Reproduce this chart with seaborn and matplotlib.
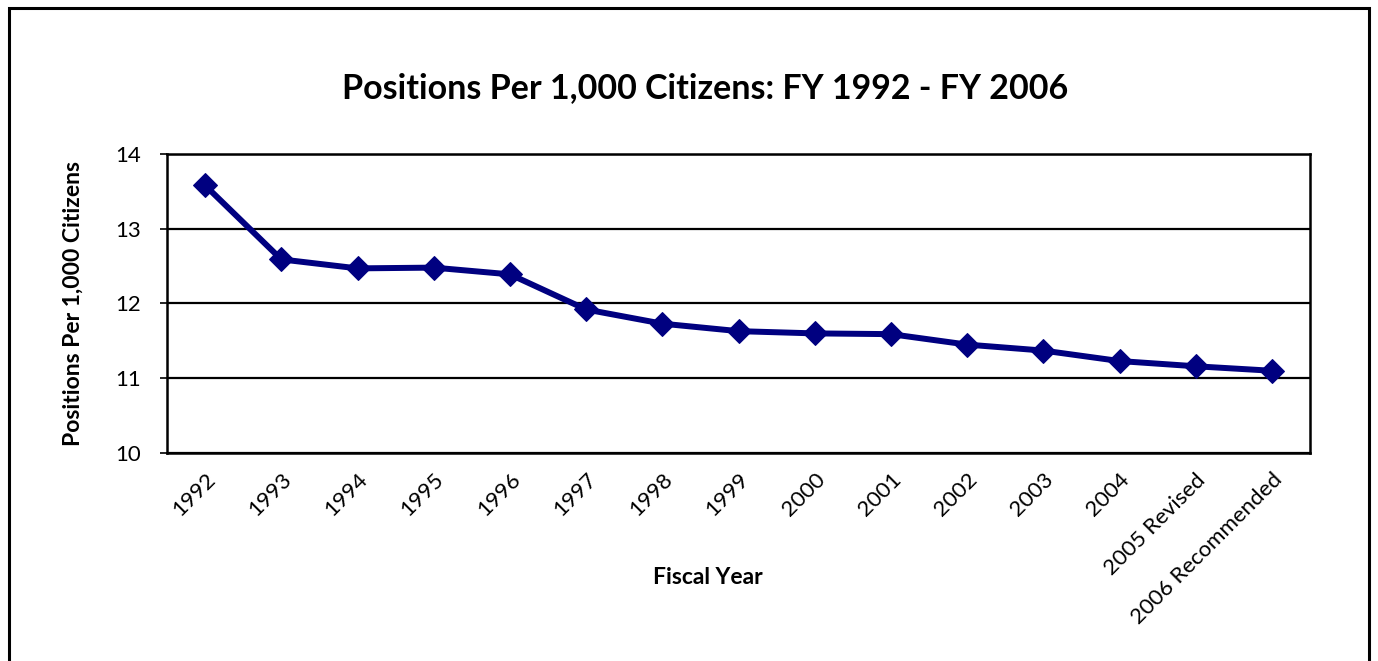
import numpy as np
import pandas as pd
import matplotlib.pyplot as plt
import matplotlib.patches as patches
import seaborn as sns

# Data
years = ["1992", "1993", "1994", "1995", "1996", "1997", "1998", "1999",
         "2000", "2001", "2002", "2003", "2004", "2005 Revised", "2006 Recommended"]
positions = [13.58, 12.59, 12.47, 12.48, 12.39, 11.92, 11.73, 11.63,
             11.60, 11.59, 11.45, 11.37, 11.23, 11.16, 11.10]
y_ticks = [10, 11, 12, 13, 14]

data = pd.DataFrame({"year": years, "positions": positions})

sns.set_style("white")
plt.rcParams['font.family'] = ['Lato', 'DejaVu Sans']
plt.rcParams['text.color'] = 'black'
plt.rcParams['xtick.color'] = 'black'
plt.rcParams['ytick.color'] = 'black'

fig = plt.figure(figsize=(13.78, 6.61), dpi=100)
ax = fig.add_axes([0.1212, 0.3147, 0.8295, 0.4523])

sns.lineplot(data=data, x="year", y="positions", ax=ax, sort=False,
             color="#000080", linewidth=4.3, marker="D", markersize=12,
             markeredgecolor="#000080")

ax.set_ylim(10, 14)
ax.set_xlim(-0.5, len(years) - 0.5)
ax.set_yticks(y_ticks)
ax.yaxis.grid(True, color="black", linewidth=1.6)
ax.set_axisbelow(True)
for s in ax.spines.values():
    s.set_visible(True)
    s.set_color("black")
    s.set_linewidth(1.8)

# x ticks: labels at category centres, tick marks between categories
ax.set_xticks(np.arange(len(years)))
ax.set_xticklabels(years, rotation=45, ha="right", rotation_mode="anchor", fontsize=16)
ax.set_xticks(np.arange(len(years) + 1) - 0.5, minor=True)
ax.tick_params(axis="x", which="major", length=0, pad=12)
ax.tick_params(axis="x", which="minor", length=6, width=1.2, color="black", direction="out")
ax.tick_params(axis="y", length=5, width=1.2, color="black", direction="out",
               labelsize=16, pad=14, left=True)
ax.set_xlabel("")
ax.set_ylabel("")

fig.text(0.053, 0.541, "Positions Per 1,000 Citizens", rotation=90, ha="center",
         va="center", fontsize=16.5, fontweight="bold")
fig.text(0.514, 0.127, "Fiscal Year", ha="center", va="center",
         fontsize=16.5, fontweight="bold")
fig.text(0.512, 0.867, "Positions Per 1,000 Citizens: FY 1992 - FY 2006",
         ha="center", va="center", fontsize=24.5, fontweight="bold")

# outer chart frame
frame = patches.Rectangle((0.0065, -0.05), 0.987, 1.038, transform=fig.transFigure,
                          fill=False, edgecolor="black", linewidth=2.2)
fig.patches.append(frame)

plt.savefig("out.png", dpi=100)
plt.close()
